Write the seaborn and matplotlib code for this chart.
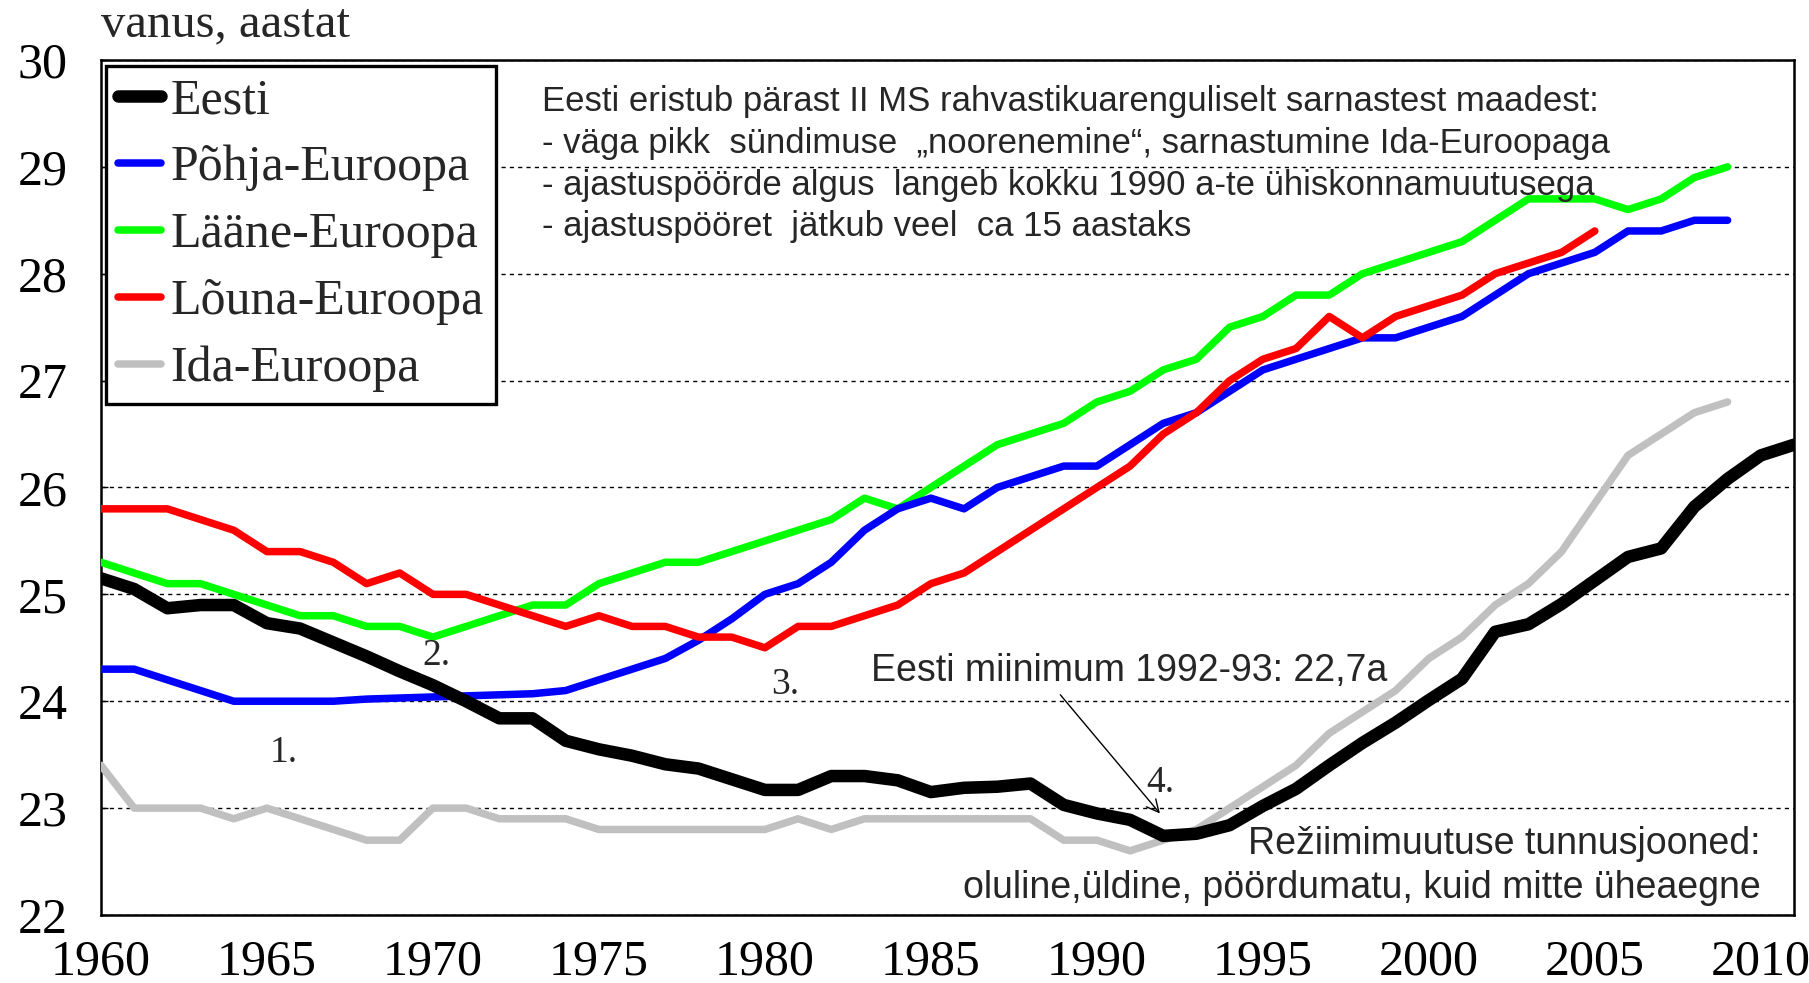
import matplotlib
matplotlib.use("Agg")
import matplotlib.pyplot as plt
import numpy as np
import pandas as pd
import seaborn as sns
from matplotlib.lines import Line2D

# ---------------- data ----------------
years_eesti = list(range(1960, 2012))
eesti = [25.15, 25.05, 24.87, 24.9, 24.9, 24.73, 24.68, 24.55, 24.42, 24.28,
         24.15, 24.0, 23.84, 23.84, 23.63, 23.55, 23.49, 23.41, 23.37, 23.27,
         23.17, 23.17, 23.3, 23.3, 23.26, 23.15, 23.19, 23.2, 23.23, 23.03,
         22.95, 22.89, 22.74, 22.76, 22.84, 23.02, 23.18, 23.4, 23.61, 23.8,
         24.01, 24.21, 24.65, 24.72, 24.91, 25.13, 25.35, 25.43, 25.82, 26.08,
         26.3, 26.4]

years_pohja = list(range(1960, 2010))
pohja = [24.3, 24.3, 24.2, 24.1, 24.0, 24.0, 24.0, 24.0, 24.02, 24.03,
         24.04, 24.05, 24.06, 24.07, 24.1, 24.2, 24.3, 24.4, 24.57, 24.77,
         25.0, 25.1, 25.3, 25.6, 25.8, 25.9, 25.8, 26.0, 26.1, 26.2,
         26.2, 26.4, 26.6, 26.7, 26.9, 27.1, 27.2, 27.3, 27.4, 27.4,
         27.5, 27.6, 27.8, 28.0, 28.1, 28.2, 28.4, 28.4, 28.5, 28.5]

years_laane = list(range(1960, 2010))
laane = [25.3, 25.2, 25.1, 25.1, 25.0, 24.9, 24.8, 24.8, 24.7, 24.7,
         24.6, 24.7, 24.8, 24.9, 24.9, 25.1, 25.2, 25.3, 25.3, 25.4,
         25.5, 25.6, 25.7, 25.9, 25.8, 26.0, 26.2, 26.4, 26.5, 26.6,
         26.8, 26.9, 27.1, 27.2, 27.5, 27.6, 27.8, 27.8, 28.0, 28.1,
         28.2, 28.3, 28.5, 28.7, 28.7, 28.7, 28.6, 28.7, 28.9, 29.0]

years_louna = list(range(1960, 2006))
louna = [25.8, 25.8, 25.8, 25.7, 25.6, 25.4, 25.4, 25.3, 25.1, 25.2,
         25.0, 25.0, 24.9, 24.8, 24.7, 24.8, 24.7, 24.7, 24.6, 24.6,
         24.5, 24.7, 24.7, 24.8, 24.9, 25.1, 25.2, 25.4, 25.6, 25.8,
         26.0, 26.2, 26.5, 26.7, 27.0, 27.2, 27.3, 27.6, 27.4, 27.6,
         27.7, 27.8, 28.0, 28.1, 28.2, 28.4]

years_ida = list(range(1960, 2010))
ida = [23.4, 23.0, 23.0, 23.0, 22.9, 23.0, 22.9, 22.8, 22.7, 22.7,
       23.0, 23.0, 22.9, 22.9, 22.9, 22.8, 22.8, 22.8, 22.8, 22.8,
       22.8, 22.9, 22.8, 22.9, 22.9, 22.9, 22.9, 22.9, 22.9, 22.7,
       22.7, 22.6, 22.7, 22.8, 23.0, 23.2, 23.4, 23.7, 23.9, 24.1,
       24.4, 24.6, 24.9, 25.1, 25.4, 25.85, 26.3, 26.5, 26.7, 26.8]

series_names = ["Eesti", "Põhja-Euroopa", "Lääne-Euroopa", "Lõuna-Euroopa", "Ida-Euroopa"]
series_colors = ["#000000", "#0000FF", "#00FF00", "#FF0000", "#C0C0C0"]

x_ticks = list(range(1960, 2011, 5))
y_ticks = list(range(22, 31))

note_lines = [
    "Eesti eristub pärast II MS rahvastikuarenguliselt sarnastest maadest:",
    "- väga pikk  sündimuse  „noorenemine“, sarnastumine Ida-Euroopaga",
    "- ajastuspöörde algus  langeb kokku 1990 a-te ühiskonnamuutusega",
    "- ajastuspööret  jätkub veel  ca 15 aastaks",
]
min_note = "Eesti miinimum 1992-93: 22,7a"
regime_lines = ["Režiimimuutuse tunnusjooned:",
                "oluline,üldine, pöördumatu, kuid mitte üheaegne"]
phase_labels = ["1.", "2.", "3.", "4."]

# ---------------- style ----------------
sns.set_theme(style="white")
plt.rcParams["font.family"] = ["Liberation Serif", "DejaVu Serif"]
SANS = ["Liberation Sans", "DejaVu Sans"]

fig = plt.figure(figsize=(18.09, 9.83), dpi=100)
ax = fig.add_axes([0.0558, 0.0692, 0.9359, 0.8698])

data = {
    "Eesti": (years_eesti, eesti),
    "Põhja-Euroopa": (years_pohja, pohja),
    "Lääne-Euroopa": (years_laane, laane),
    "Lõuna-Euroopa": (years_louna, louna),
    "Ida-Euroopa": (years_ida, ida),
}
widths = {"Eesti": 9.0, "Põhja-Euroopa": 5.4, "Lääne-Euroopa": 5.4,
          "Lõuna-Euroopa": 5.4, "Ida-Euroopa": 5.4}
draw_order = ["Ida-Euroopa", "Lääne-Euroopa", "Põhja-Euroopa", "Lõuna-Euroopa", "Eesti"]
color_of = dict(zip(series_names, series_colors))

for name in draw_order:
    yrs, vals = data[name]
    df = pd.DataFrame({"year": yrs, "value": vals})
    sns.lineplot(data=df, x="year", y="value", ax=ax, color=color_of[name],
                 linewidth=widths[name], legend=False, zorder=3,
                 solid_joinstyle="round", solid_capstyle="round")

ax.set_xlim(1960, 2011)
ax.set_ylim(22, 30)
ax.set_xticks(x_ticks)
ax.set_yticks(y_ticks)
ax.set_xticklabels([str(t) for t in x_ticks])
ax.set_yticklabels([str(t) for t in y_ticks])
ax.set_xlabel("")
ax.set_ylabel("")

ax.yaxis.grid(True, linestyle=(0, (3, 3)), color="black", linewidth=1.0, zorder=1)
ax.xaxis.grid(False)
ax.set_axisbelow(True)

for sp in ax.spines.values():
    sp.set_color("black")
    sp.set_linewidth(1.8)
    sp.set_visible(True)

ax.tick_params(axis="y", direction="in", length=5, width=1, pad=24, labelsize=36,
               left=True, colors="black")
ax.tick_params(axis="x", length=0, pad=17, labelsize=36, colors="black")

# legend
handles = [Line2D([0], [0], color=color_of[n], linewidth=widths[n]) for n in series_names]
leg = ax.legend(handles, series_names, loc="upper left", bbox_to_anchor=(0.003, 0.993),
                borderaxespad=0, fontsize=36, handlelength=0.85, handletextpad=0.2,
                labelspacing=0.41, borderpad=0.24, frameon=True, fancybox=False)
leg.get_frame().set_edgecolor("black")
leg.get_frame().set_linewidth(2.4)
leg.get_frame().set_facecolor("white")
leg.get_frame().set_alpha(1)
leg.set_zorder(5)

# y-axis title
fig.text(101 / 1809, 1 - 24 / 983, "vanus, aastat", fontsize=35, ha="left", va="center")

# notes block
note_y = [29.61, 29.22, 28.83, 28.44]
for ln, yv in zip(note_lines, note_y):
    ax.text(1973.3, yv, ln, family=SANS, fontsize=25, ha="left", va="center", zorder=6)

ax.text(1983.2, 24.28, min_note, family=SANS, fontsize=27, ha="left", va="center", zorder=6)
ax.annotate("", xy=(1991.9, 22.95), xytext=(1988.9, 24.06),
            arrowprops=dict(arrowstyle="->", color="black", lw=1.0, mutation_scale=22,
                            shrinkA=0, shrinkB=0), zorder=6)

ax.text(2010.0, 22.66, regime_lines[0], family=SANS, fontsize=27, ha="right", va="center", zorder=6)
ax.text(2010.0, 22.25, regime_lines[1], family=SANS, fontsize=27, ha="right", va="center", zorder=6)

phase_pos = [(1965.5, 23.52), (1970.1, 24.43), (1980.6, 24.15), (1991.9, 23.24)]
for lab, (px, py) in zip(phase_labels, phase_pos):
    ax.text(px, py, lab, fontsize=27, ha="center", va="center", zorder=6)

fig.savefig("out.png", dpi=100)
